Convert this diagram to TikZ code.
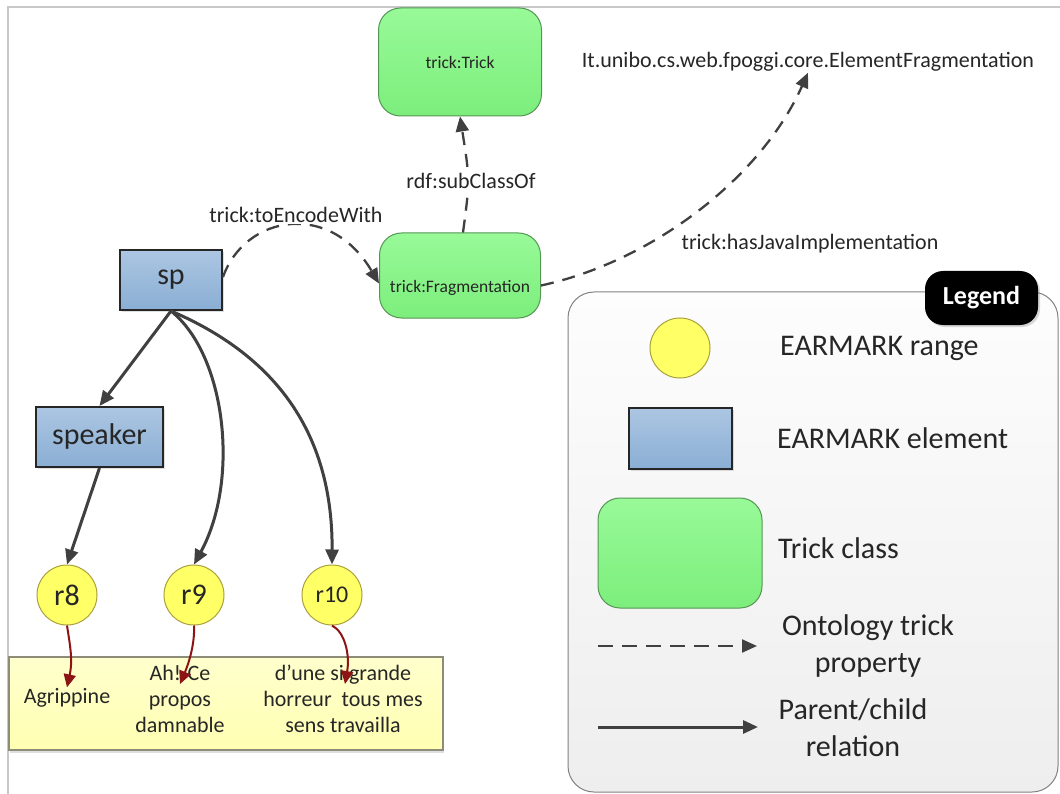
\documentclass[tikz,border=0pt]{standalone}
\usepackage{fontspec}
\setmainfont{Carlito}
\usetikzlibrary{arrows.meta,shadows}

\definecolor{inkgray}{RGB}{38,38,38}
\definecolor{arrowgray}{RGB}{64,64,64}
\definecolor{greentop}{RGB}{152,250,152}
\definecolor{greenbot}{RGB}{124,238,124}
\definecolor{greenline}{RGB}{85,150,85}
\definecolor{bluetop}{RGB}{172,198,226}
\definecolor{bluebot}{RGB}{138,174,212}
\definecolor{rangefill}{RGB}{255,255,102}
\definecolor{rangeline}{RGB}{170,160,60}
\definecolor{texttop}{RGB}{255,255,205}
\definecolor{textbot}{RGB}{255,255,178}
\definecolor{textline}{RGB}{140,140,120}
\definecolor{legendtop}{RGB}{253,253,253}
\definecolor{legendbot}{RGB}{238,238,238}
\definecolor{legendline}{RGB}{130,130,130}
\definecolor{framegray}{RGB}{200,200,200}
\definecolor{linkred}{RGB}{140,20,20}

\begin{document}
\begin{tikzpicture}[x=1pt,y=-1pt,
  trickclass/.style={rectangle, rounded corners=22pt, draw=greenline, line width=1pt,
    top color=greentop, bottom color=greenbot, inner sep=0pt},
  element/.style={rectangle, draw=black!85, line width=2pt, top color=bluetop,
    bottom color=bluebot, inner sep=0pt, font=\fontsize{30}{34}\selectfont, text=inkgray,
    drop shadow={opacity=0.25,shadow xshift=2pt,shadow yshift=-2pt}},
  rangedot/.style={circle, draw=rangeline, line width=1pt, fill=rangefill, minimum size=60pt,
    inner sep=0pt, text=inkgray},
  small/.style={font=\fontsize{22}{26}\selectfont, text=inkgray, inner sep=1pt},
  big/.style={font=\fontsize{30}{37}\selectfont, text=inkgray, inner sep=0pt},
  parent/.style={draw=arrowgray, line width=3pt, -{Triangle[length=15pt,width=13pt]}},
  prop/.style={draw=arrowgray, line width=2.3pt, dash pattern=on 13pt off 9pt,
    -{Triangle[length=15pt,width=13pt]}},
  fragment/.style={draw=linkred, line width=2pt, -{Triangle[length=13pt,width=12pt]}},
]
\useasboundingbox (0,0) rectangle (1060,794);
\fill[white] (0,0) rectangle (1060,794);
\draw[framegray, line width=1.5pt] (1060,7) -- (8,7) -- (8,794);

% ---------- legend ----------
\node[rectangle, rounded corners=26pt, draw=legendline, line width=1pt, top color=legendtop,
  bottom color=legendbot, minimum width=490pt, minimum height=500pt] (legend) at (813,542) {};
\node[rectangle, rounded corners=18pt, fill=black, minimum width=113pt, minimum height=54pt,
  text=white, font=\bfseries\fontsize{26}{30}\selectfont,
  drop shadow={opacity=0.3,shadow xshift=2pt,shadow yshift=-2pt}] (legendtag) at (981.5,298) {Legend};

\node[rangedot] (keyrange) at (680,348) {};
\node[big, anchor=west] (keyrangetext) at (780,348) {EARMARK range};
\node[element, minimum width=103pt, minimum height=61pt] (keyelement) at (680,438.5) {};
\node[big, anchor=west] (keyelementtext) at (777,438) {EARMARK element};
\node[trickclass, minimum width=164pt, minimum height=110pt] (keyclass) at (680,553) {};
\node[big, anchor=west] (keyclasstext) at (778,548) {Trick class};
\coordinate (propfrom) at (598,646);
\coordinate (propto) at (757,646);
\draw[prop, dash pattern=on 15pt off 9pt] (propfrom) -- (propto);
\node[big, align=center] (proptext) at (868,646) {Ontology trick\\property};
\coordinate (parfrom) at (598,727);
\coordinate (parto) at (758,727);
\draw[parent] (parfrom) -- (parto);
\node[big, align=center] (partext) at (853,728) {Parent/child\\relation};

% ---------- ontology classes ----------
\node[trickclass, minimum width=163pt, minimum height=108pt,
  font=\fontsize{17.5}{20}\selectfont, text=inkgray] (trick) at (460,62) {trick:Trick};
\node[trickclass, minimum width=161pt, minimum height=85pt] (frag) at (460,275.5) {};
\node[font=\fontsize{17.5}{20}\selectfont, text=inkgray] (fraglabel) at (460,288) {trick:Fragmentation};
\node[small] (ef) at (808,62) {It.unibo.cs.web.fpoggi.core.ElementFragmentation};

% ---------- EARMARK elements and ranges ----------
\node[element, minimum width=102pt, minimum height=60pt] (sp) at (171,280) {sp};
\node[element, minimum width=127pt, minimum height=60pt] (speaker) at (99.5,437) {speaker};
\node[rangedot, font=\fontsize{30}{34}\selectfont] (r8) at (67,595) {r8};
\node[rangedot, font=\fontsize{30}{34}\selectfont] (r9) at (194,595) {r9};
\node[rangedot, font=\fontsize{24}{28}\selectfont] (r10) at (332,595) {r10};

% ---------- text content ----------
\node[rectangle, draw=textline, line width=1.2pt, top color=texttop, bottom color=textbot,
  minimum width=434pt, minimum height=93pt,
  drop shadow={opacity=0.25,shadow xshift=1pt,shadow yshift=-3pt}] (content) at (226,703.5) {};
\node[small] (agr) at (67,698) {Agrippine};
\node[small, align=center] (ahce) at (180,699) {Ah! Ce\\propos\\damnable};
\node[small, align=center] (dune) at (343,699) {d’une si grande\\horreur\ \ tous mes\\sens travailla};

% ---------- parent/child relations ----------
\draw[parent] (sp.south) -- (speaker.north);
\draw[parent] (speaker.south) -- (r8.north);
\draw[parent] (sp.south) .. controls (226,355) and (240,480) .. (r9.north);
\draw[parent] (sp.south) .. controls (262,350) and (333,420) .. (r10.north);

% ---------- ranges pointing into the text ----------
\coordinate (ahcein) at (180,684);
\coordinate (dunein) at (345,684);
\draw[fragment] (r8.south) .. controls (70,645) and (73,660) .. (agr.north);
\draw[fragment] (r9.south) .. controls (195,645) and (188,665) .. (ahcein);
\draw[fragment] (r10.south) .. controls (345,632) and (350,655) .. (dunein);

% ---------- ontology properties ----------
\draw[prop] ([yshift=3pt]sp.east) .. controls (245,215) and (330,200) .. ([yshift=-8pt]frag.west);
\node[small, fill=white] (encode) at (296,215) {trick:toEncodeWith};
\draw[prop] ([xshift=3pt]frag.north) .. controls (470,180) .. (trick.south);
\node[small, fill=white] (subclass) at (471,181) {rdf:subClassOf};
\draw[prop] ([yshift=-10pt]frag.east) .. controls (650,262) and (760,180) .. (ef.south);
\node[small] (java) at (810,244) {trick:hasJavaImplementation};
\end{tikzpicture}
\end{document}
